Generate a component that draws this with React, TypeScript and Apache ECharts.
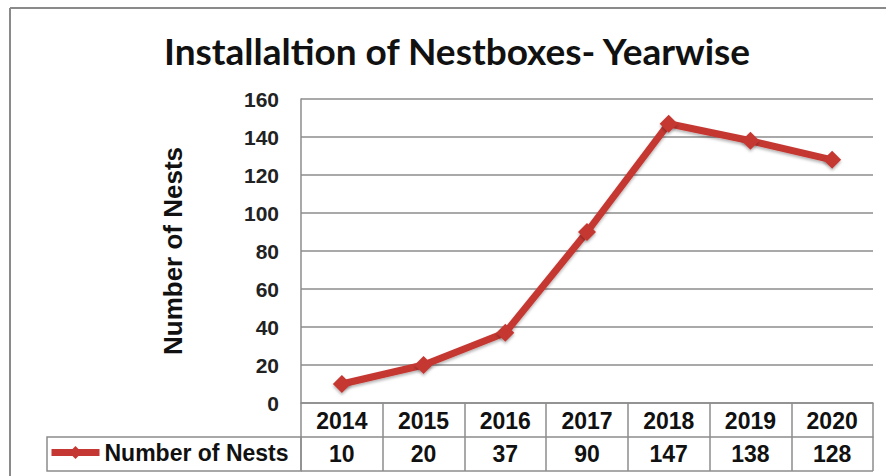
import React, { useEffect, useRef } from "react";
import * as echarts from "echarts";

const years = ["2014", "2015", "2016", "2017", "2018", "2019", "2020"];
const nests = [10, 20, 37, 90, 147, 138, 128];
const seriesName = "Number of Nests";
const titleText = "Installaltion of Nestboxes- Yearwise";
const yTicks = { min: 0, max: 160, interval: 20 };

const W = 886;
const H = 476;
const GRID_LEFT = 301;
const GRID_RIGHT = 873;
const GRID_TOP = 99;
const GRID_BOTTOM = 403;
const ROW_H = 34;
const TABLE_LEFT = 47;
const LINE_GRAY = "#8c8c8c";
const RED = "#C53733";
const FONT = "'Liberation Sans', Arial, sans-serif";

export default function App() {
  const ref = useRef<HTMLDivElement>(null);
  useEffect(() => {
    if (!ref.current) return;
    const chart = echarts.init(ref.current, undefined, { renderer: "svg" });
    const tableBottom = GRID_BOTTOM + ROW_H * 2;
    chart.setOption({
      animation: false,
      backgroundColor: "#ffffff",
      title: {
        text: titleText,
        left: 452,
        top: 27,
        textAlign: "center",
        textStyle: {
          fontFamily: "Lato, 'Open Sans', sans-serif",
          fontWeight: "bold",
          fontSize: 37,
          color: "#111",
        },
      },
      legend: {
        left: TABLE_LEFT + 1,
        top: GRID_BOTTOM + ROW_H + 4,
        padding: 0,
        itemWidth: 48,
        itemHeight: 16,
        itemGap: 0,
        lineStyle: { width: 7, color: RED },
        textStyle: { fontFamily: FONT, fontWeight: "bold", fontSize: 23, color: "#111" },
        data: [seriesName],
      },
      grid: {
        left: GRID_LEFT,
        right: W - GRID_RIGHT,
        top: GRID_TOP,
        bottom: H - GRID_BOTTOM,
        containLabel: false,
      },
      xAxis: [
        {
          type: "category",
          data: years,
          position: "bottom",
          boundaryGap: true,
          axisLine: { show: true, lineStyle: { color: LINE_GRAY, width: 1.5 } },
          axisTick: { show: true, interval: 0, length: ROW_H * 2, lineStyle: { color: LINE_GRAY, width: 1.5 } },
          axisLabel: { interval: 0, margin: 6, fontFamily: FONT, fontWeight: "bold", fontSize: 23, color: "#111" },
        },
        {
          type: "category",
          data: nests.map((v) => String(v)),
          position: "bottom",
          offset: ROW_H,
          boundaryGap: true,
          axisLine: { show: true, lineStyle: { color: LINE_GRAY, width: 1.5 } },
          axisTick: { show: false },
          axisLabel: { interval: 0, margin: 5, fontFamily: FONT, fontWeight: "bold", fontSize: 23, color: "#111" },
        },
      ],
      yAxis: {
        type: "value",
        min: yTicks.min,
        max: yTicks.max,
        interval: yTicks.interval,
        name: seriesName,
        nameLocation: "middle",
        nameRotate: 90,
        nameGap: 115,
        nameTextStyle: { fontFamily: FONT, fontWeight: "bold", fontSize: 26, color: "#111" },
        axisLine: { show: true, lineStyle: { color: LINE_GRAY, width: 1.5 } },
        axisTick: { show: false },
        splitLine: { show: true, lineStyle: { color: LINE_GRAY, width: 1.5 } },
        axisLabel: { margin: 22, fontFamily: FONT, fontWeight: "bold", fontSize: 21, color: "#222" },
      },
      graphic: [
        {
          type: "rect",
          shape: { x: TABLE_LEFT, y: GRID_BOTTOM + ROW_H, width: GRID_LEFT - TABLE_LEFT, height: ROW_H },
          style: { fill: "none", stroke: LINE_GRAY, lineWidth: 1.5 },
          z: 0,
        },
        {
          type: "line",
          shape: { x1: GRID_LEFT, y1: tableBottom, x2: GRID_RIGHT, y2: tableBottom },
          style: { stroke: LINE_GRAY, lineWidth: 1.5 },
        },
        {
          type: "line",
          shape: { x1: 10, y1: 8, x2: W, y2: 8 },
          style: { stroke: "#8a8a8a", lineWidth: 2 },
        },
        {
          type: "line",
          shape: { x1: 10, y1: 8, x2: 10, y2: H },
          style: { stroke: "#8a8a8a", lineWidth: 2 },
        },
      ],
      series: [
        {
          name: seriesName,
          type: "line",
          data: nests,
          xAxisIndex: 0,
          symbol: "diamond",
          symbolSize: 18,
          lineStyle: { color: RED, width: 7, shadowColor: "rgba(0,0,0,0.3)", shadowBlur: 3, shadowOffsetY: 2 },
          itemStyle: { color: RED, shadowColor: "rgba(0,0,0,0.3)", shadowBlur: 3, shadowOffsetY: 2 },
          z: 5,
        },
      ],
    });
    return () => chart.dispose();
  }, []);
  return <div ref={ref} style={{ width: W, height: H, position: "absolute", left: 0, top: 0 }} />;
}
